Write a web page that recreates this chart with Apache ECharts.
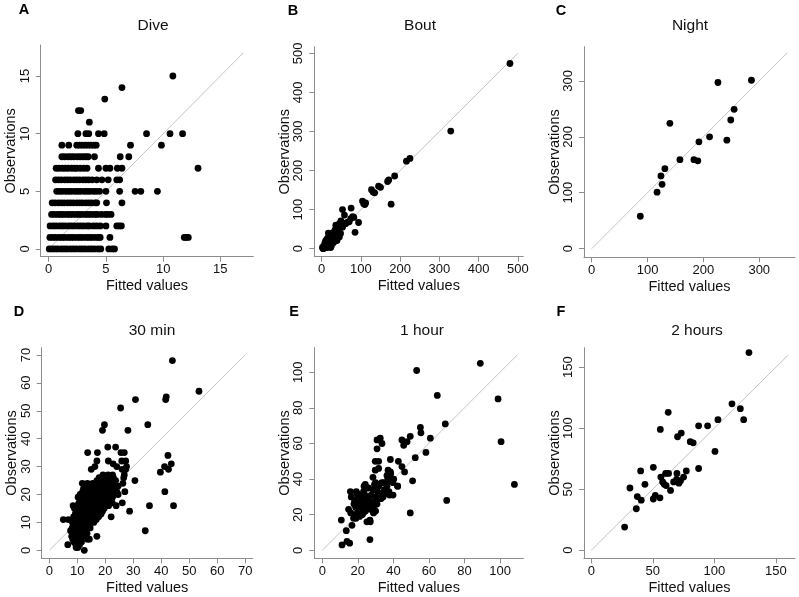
<!DOCTYPE html>
<html><head><meta charset="utf-8">
<script src="https://cdn.jsdelivr.net/npm/echarts@6/dist/echarts.min.js"></script>
<style>html,body{margin:0;padding:0;background:#fff}#c{width:799px;height:597px}</style>
</head><body><div id="c"></div>
<script>
// ---------- DATA ----------
const panelTitles = ['Dive', 'Bout', 'Night', '30 min', '1 hour', '2 hours'];
const panelLetters = ['A', 'B', 'C', 'D', 'E', 'F'];
const xAxisTitle = 'Fitted values';
const yAxisTitle = 'Observations';

const diveTicks = [0, 5, 10, 15];
const boutTicks = [0, 100, 200, 300, 400, 500];
const nightTicks = [0, 100, 200, 300];
const min30Ticks = [0, 10, 20, 30, 40, 50, 60, 70];
const hour1Ticks = [0, 20, 40, 60, 80, 100];
const hour2Ticks = [0, 50, 100, 150];

// reference (1:1) lines: [start, end]
const diveDiag = [0, 17];
const boutDiag = [0, 500];
const nightDiag = [0, 350];
const min30Diag = [0, 70];
const hour1Diag = [0, 110];
const hour2Diag = [0, 160];

// Panel A: observed counts (rows) and fitted values in each row
const diveObsRows = [0, 1, 2, 3, 4, 5, 6, 7, 8, 9, 10, 11, 12, 13, 14, 15];
const diveFittedByRow = [
  [0.05,0.3,0.55,0.8,1.1,1.35,1.6,1.9,2.15,2.4,2.7,2.95,3.2,3.5,3.75,4.0,4.3,4.55,5.25,5.55,5.75],
  [0.1,0.35,0.6,0.9,1.15,1.4,1.7,1.95,2.2,2.5,2.75,3.0,3.3,3.55,3.8,4.1,4.35,4.5,5.35,11.85,12.0,12.2],
  [0.12,0.4,0.65,0.95,1.2,1.45,1.75,2.0,2.25,2.55,2.8,3.05,3.35,3.55,3.9,4.2,4.5,5.0,5.95,6.15,6.35],
  [0.25,0.5,0.8,1.05,1.3,1.6,1.85,2.1,2.4,2.65,2.9,3.2,3.45,3.7,4.0,4.25,4.6,4.95,5.15,5.45],
  [0.3,0.55,0.85,1.1,1.35,1.65,1.9,2.15,2.45,2.7,2.95,3.25,3.5,3.75,4.05,4.2,5.05,6.4],
  [0.7,0.95,1.2,1.5,1.75,2.0,2.3,2.55,2.8,3.1,3.35,3.6,3.9,4.15,4.45,5.0,6.2,7.55,8.05,9.5],
  [0.6,0.85,1.1,1.4,1.65,1.9,2.2,2.45,2.7,3.0,3.25,3.5,3.8,4.2,4.65,5.2,5.95,6.2],
  [0.65,0.9,1.2,1.45,1.7,2.0,2.25,2.45,2.75,3.05,3.35,4.35,5.0,5.35,6.0,6.4,13.05],
  [1.15,1.4,1.7,1.95,2.2,2.5,2.75,3.0,3.25,3.45,4.0,6.25,7.0],
  [1.15,1.75,2.45,2.7,2.95,3.2,3.45,3.7,3.95,4.15,7.15,9.85],
  [2.55,3.25,3.5,4.35,4.85,8.55,10.6,11.7],
  [3.55],
  [2.6,2.8],
  [4.9],
  [6.4],
  [10.85]
];

// Panel B: [fitted, observed]
const boutPoints = [
  [480,474],[329,301],[216,224],[225,231],[186,186],[168,172],[171,176],[145,160],[150,157],
  [127,151],[131,145],[135,143],[177,114],[104,122],[107,115],[112,117],[110,113],[75,104],
  [53,100],[58,86],[79,82],[74,77],[82,80],[94,67],[85,42],[66,68],[61,64],[70,69],[49,71],
  [45,64],[56,65],[36,60],[34,48],[41,52],[49,56],[53,55],[48,39],[43,37],[38,40],[24,39],
  [20,32],[32,26],[45,30],[35,22],[28,18],[22,12],[18,22],[15,8],[12,14],[10,4],[8,10],[6,2],
  [5,6],[3,1],[4,0],[14,3],[18,6],[25,8],[30,15],[27,24],[20,18],[10,20],[8,14],[26,34],
  [30,42],[16,28],[11,9],[13,24],[23,3],[7,5],[2,3],[17,40],[33,33],[39,21],[21,26]
];

// Panel C
const nightPoints = [
  [87,58],[117,101],[124,130],[126,115],[131,143],[140,224],[158,159],[183,159],
  [190,157],[192,191],[211,200],[226,297],[242,194],[249,230],[255,249],[286,301]
];

// Panel D: observed counts (rows) and fitted values in each row
const min30ObsRows = [0,1,2,3,4,5,6,7,8,9,10,11,12,13,14,15,16,17,18,19,20,21,22,23,24,25,26,27,28,29,30,31,32,34,35,37,43,45,51,54,55,57,68];
const min30FittedByRow = [
  [12.5],
  [9.6,10.2],
  [6.6,9.5,10.8],
  [8.8,10.0,11.5],
  [8.4,9.6,10.7,13.6,14.3],
  [8.0,9.2,10.3,11.6,12.8,17.0],
  [8.6,9.9,11.1,12.3,13.5],
  [7.6,8.7,10.4,11.9,13.1,34.3],
  [8.2,9.5,10.8,12.2,13.4,14.6],
  [9.0,10.3,11.7,12.9,14.0],
  [8.3,9.6,10.9,12.1,13.4,14.7,15.9],
  [5.0,6.8,9.2,10.5,11.8,13.0,14.3,15.5,16.8],
  [8.7,10.0,11.3,12.6,13.9,15.2,16.5,17.6,22.1],
  [9.3,10.6,11.9,13.2,14.5,15.8,17.2,18.5],
  [9.8,11.1,12.4,13.7,15.0,16.3,17.6,19.0,28.7],
  [9.0,10.4,11.7,13.0,14.3,15.6,16.9,18.2,19.6],
  [8.5,10.0,11.4,12.7,14.0,15.4,16.7,18.0,19.5,21.2,23.9,35.8,44.4],
  [10.6,12.0,13.3,14.7,16.1,17.5,19.0,20.5,22.5,26.1],
  [11.2,12.5,13.9,15.3,16.8,18.4,20.0,21.4],
  [10.3,11.8,13.2,14.6,16.1,17.8,19.3,20.8,22.6],
  [11.0,12.4,13.8,15.2,16.7,18.3,19.9,21.3,23.0,24.6],
  [11.9,13.3,14.8,16.3,17.9,19.5,21.0,22.5,24.1,27.0,41.3],
  [12.2,13.9,15.6,17.2,18.8,20.4,22.0,23.6],
  [12.8,14.5,16.2,18.0,19.6,21.3,23.0,24.6],
  [11.8,13.6,15.5,17.4,19.2,21.0,22.8,26.3],
  [17.0,18.6,20.3,22.0,23.7,30.6],
  [17.8,19.5,21.2,22.9,26.6],
  [19.2,21.0,22.6,26.8],
  [39.7],
  [15.0,26.0,27.3,42.6],
  [16.3,24.1,27.6,41.2],
  [22.8,43.6],
  [17.0,21.1,25.9,27.3],
  [42.4],
  [13.7,17.2,25.6,26.8],
  [20.9,23.7],
  [19.0,28.1],
  [19.7,35.2],
  [25.5],
  [30.8,41.6],
  [41.8],
  [53.5],
  [44.0]
];

// Panel E
const hour1Points = [
  [88.9,105],[53.1,101],[64.7,87],[98.9,85],[100.6,61],[108.1,37],[69.2,71],[70.0,28],[49.5,21],
  [60.8,63],[58.3,55],[55.2,69],[55.5,66],[52.3,52],[50.8,39],[49.5,64],[44.8,62],[45.8,59],
  [47.7,61],[42.8,50],[44.8,47],[46.3,44],[42.4,36],[38.3,51],[30.8,62],[32.6,63],[33.6,60],
  [30.8,57],[29.8,50],[31.7,50],[26.8,6],[11.1,3],[13.9,5],[15.4,4],[10.7,17],[13.5,11],
  [16.7,14],[26.8,17],[19.0,18],[27.0,16],[25.1,16],[18.6,20],[21.0,19],[17.6,18],
  [19.8,21],[22.5,20],[16.0,21],[20.5,22],[23.0,21],[28.8,21],
  [21.8,23],[24.3,22],[30.0,22],[14.8,23],[18.8,24],[22.6,25],[27.1,23],
  [20.3,26],[25.0,24],[29.0,24],[21.6,27],[26.0,25],
  [17.8,26],[22.4,28],[28.2,26],[30.8,26],[19.2,27],[23.5,27],
  [18.2,28],[25.3,28],[29.8,28],[22.5,30],[26.3,29],[33.0,29],
  [16.3,30],[20.0,30],[24.0,31],[30.5,30],[34.2,30],[37.8,31],
  [22.0,31],[27.5,31],[32.6,32],
  [19.5,32],[23.2,33],[31.0,33],[36.0,32],[39.8,31],
  [15.8,33],[19.1,33],[28.5,34],[35.0,34],[37.5,33],[26.0,35],
  [23.5,36],[31.8,36],[25.1,35],[36.4,36],[42.4,36],[29.4,37],[33.5,38],
  [24.2,37],[34.6,38],[30.0,38],[39.8,38],[36.8,40],
  [37.2,39],[36.4,42],[40.2,40],[28.5,41],[37.3,41],[38.5,43],
  [38.3,44],[29.8,45],[31.7,46],[37.0,45]
];

// Panel F
const hour2Points = [
  [128.1,162],[114.3,120],[121.1,116],[123.8,107],[102.9,107],[94.5,102],[87.2,102],[62.5,113],
  [56.1,99],[73.1,96],[70.1,93],[80.4,89],[82.8,88],[100.5,81],[87.2,67],[77.2,65],[75.0,60],
  [69.6,63],[69.3,58],[71.2,55],[66.9,56],[62.8,63],[60.4,63],[56.5,60],[58.0,56],[59.3,54],
  [64.4,49],[55.8,43],[52.0,45],[50.4,42],[50.4,68],[40.1,65],[43.6,54],[31.4,51],[37.4,44],
  [40.6,41],[36.6,34],[27.1,19],[72.5,57],[60.8,53]
];

// ---------- BUILD ----------
function rowsToPairs(rows, fittedByRow) {
  const out = [];
  rows.forEach((obs, i) => fittedByRow[i].forEach(f => out.push([f, obs])));
  return out;
}
const panelData = [
  rowsToPairs(diveObsRows, diveFittedByRow),
  boutPoints,
  nightPoints,
  rowsToPairs(min30ObsRows, min30FittedByRow),
  hour1Points,
  hour2Points
];
const panelTicks = [diveTicks, boutTicks, nightTicks, min30Ticks, hour1Ticks, hour2Ticks];
const panelDiag = [diveDiag, boutDiag, nightDiag, min30Diag, hour1Diag, hour2Diag];

const layout = [
  {grid:{left:40.7,top:45,width:212.6,height:211.7}, x:[-0.70,17.88], y:[-0.67,17.69], title:[153,26], letter:[24,10]},
  {grid:{left:314.3,top:46.7,width:209,height:210}, x:[-18.9,514], y:[-20.5,517], title:[420,26], letter:[293,11]},
  {grid:{left:584,top:46.7,width:211,height:210.6}, x:[-13.8,364], y:[-15.4,361], title:[690,26], letter:[561,11]},
  {grid:{left:41.7,top:347.7,width:211,height:210.6}, x:[-2.72,72.7], y:[-2.87,72.6], title:[152,331], letter:[19,312]},
  {grid:{left:314.3,top:347.7,width:209,height:210.6}, x:[-4.5,113.1], y:[-4.5,113.8], title:[422,331], letter:[294,312]},
  {grid:{left:584,top:347.7,width:211,height:210.6}, x:[-5.9,165.5], y:[-6.6,166], title:[697,331], letter:[561,312]}
];

const FONT = '"Liberation Sans", Arial, Helvetica, sans-serif';
const AXIS_COLOR = '#8c8c8c';
const grids = [], xAxes = [], yAxes = [], series = [], graphics = [];

layout.forEach((L, i) => {
  grids.push(Object.assign({outerBoundsMode: 'none', containLabel: false}, L.grid));
  const ticks = panelTicks[i];
  const common = (name, isY, mm) => ({
    gridIndex: i, type: 'value', min: mm[0], max: mm[1],
    name: name, nameLocation: 'middle', nameGap: 22, nameMoveOverlap: false,
    nameTextStyle: {fontSize: 14.5, color: '#111', fontFamily: FONT},
    axisLine: {show: true, onZero: false, lineStyle: {color: AXIS_COLOR, width: 1}},
    axisTick: {show: true, length: 5, customValues: ticks, lineStyle: {color: AXIS_COLOR, width: 1}},
    axisLabel: {show: true, customValues: ticks, margin: isY ? 9 : 6.5, rotate: isY ? 90 : 0,
                fontSize: 13, color: '#111', fontFamily: FONT},
    splitLine: {show: false}
  });
  xAxes.push(common(xAxisTitle, false, L.x));
  yAxes.push(common(yAxisTitle, true, L.y));
  const d = panelDiag[i];
  series.push({
    type: 'line', xAxisIndex: i, yAxisIndex: i, data: [[d[0], d[0]], [d[1], d[1]]],
    symbol: 'none', silent: true, z: 1,
    lineStyle: {color: '#c4c4c4', width: 1}
  });
  series.push({
    type: 'scatter', xAxisIndex: i, yAxisIndex: i, data: panelData[i],
    symbolSize: 6.8, z: 2, itemStyle: {color: '#000', opacity: 1}
  });
  graphics.push({type: 'text', x: L.title[0], y: L.title[1],
    style: {text: panelTitles[i], align: 'center', verticalAlign: 'middle',
            font: '15.5px ' + FONT, fill: '#111'}});
  graphics.push({type: 'text', x: L.letter[0], y: L.letter[1],
    style: {text: panelLetters[i], align: 'center', verticalAlign: 'middle',
            font: 'bold 14.5px ' + FONT, fill: '#000'}});
});

const chart = echarts.init(document.getElementById('c'), null, {renderer: 'canvas'});
chart.setOption({
  animation: false,
  backgroundColor: '#fff',
  grid: grids, xAxis: xAxes, yAxis: yAxes, series: series, graphic: graphics
});
</script></body></html>
